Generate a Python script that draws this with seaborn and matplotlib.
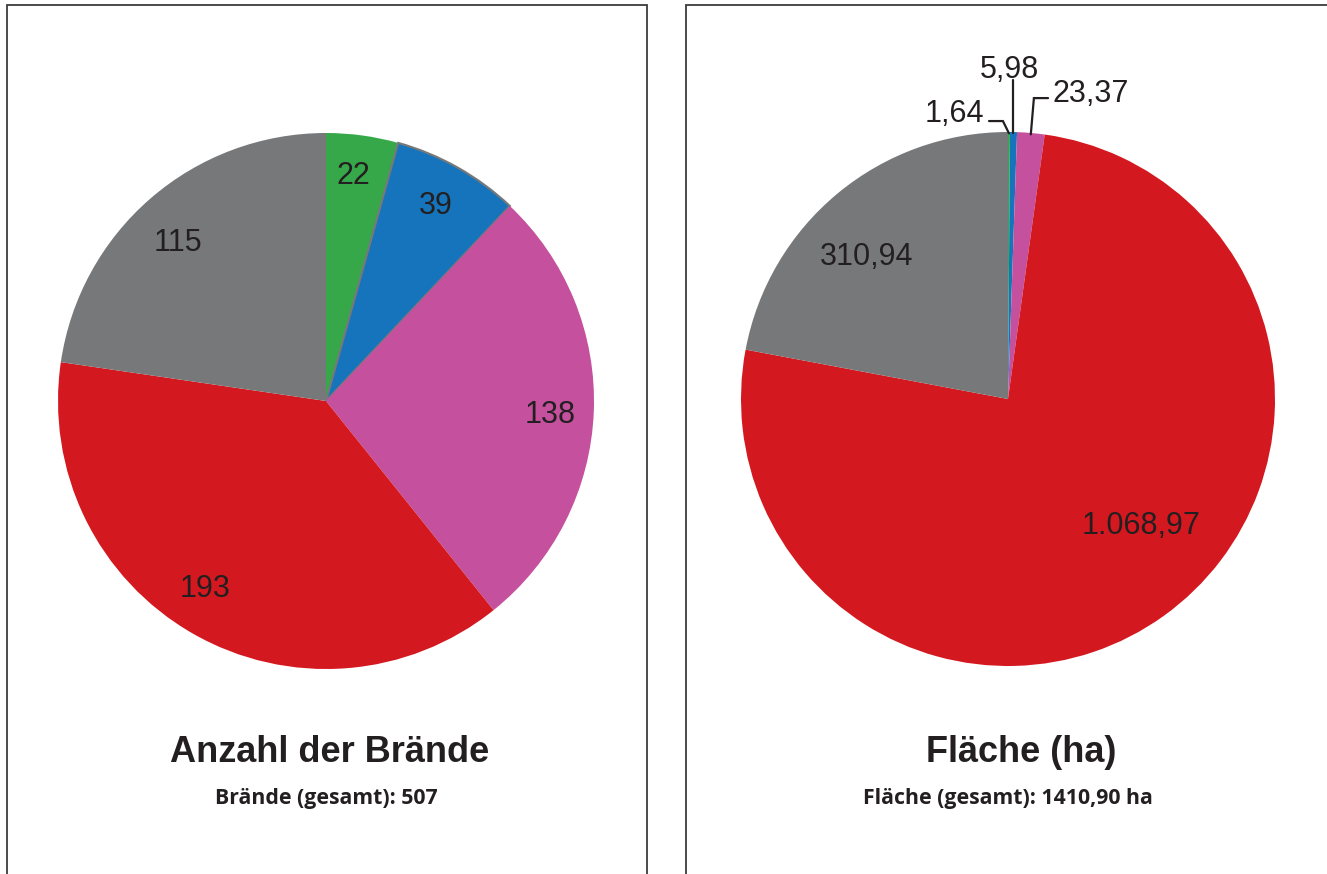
import numpy as np
import matplotlib
matplotlib.use("Agg")
import matplotlib.pyplot as plt
from matplotlib.patches import Rectangle
import seaborn as sns

# Daten
kategorien = ["A", "B", "C", "D", "E"]
braende = [22, 39, 138, 193, 115]
flaeche = [1.64, 5.98, 23.37, 1068.97, 310.94]
farben = ["#37a84a", "#1574bb", "#c4509e", "#d4181f", "#77787a"]

titel_links = "Anzahl der Brände"
sub_links = "Brände (gesamt): 507"
titel_rechts = "Fläche (ha)"
sub_rechts = "Fläche (gesamt): 1410,90 ha"

sns.set_style("white")
plt.rcParams["font.family"] = ["Liberation Sans", "DejaVu Sans"]

W, H = 1327, 874
fig = plt.figure(figsize=(W / 100, H / 100), dpi=100)
textfarbe = "#231f20"


def de_zahl(v, nd):
    s = f"{v:,.{nd}f}"
    return s.replace(",", "X").replace(".", ",").replace("X", ".")


def pie_axes(cx, cy, r, pad=1.35):
    ax = fig.add_axes([(cx - pad * r) / W, 1 - (cy + pad * r) / H,
                       2 * pad * r / W, 2 * pad * r / H])
    return ax


# Beschriftungspositionen (relativ zum Radius)
pos_braende = [(0.104, 0.854), (0.410, 0.739), (0.836, -0.041), (-0.451, -0.690), (-0.552, 0.604)]
pos_flaeche = [(-0.202, 1.079), (0.004, 1.247), (0.311, 1.157), (0.50, -0.464), (-0.528, 0.545)]

# linke Torte
ax1 = pie_axes(326, 401, 268)
wedges1, _ = ax1.pie(braende, colors=farben, startangle=90, counterclock=False,
                     wedgeprops=dict(linewidth=0))
wedges1[1].set_edgecolor("#77787a")
wedges1[1].set_linewidth(1.5)
for v, (x, y) in zip(braende, pos_braende):
    ax1.text(x, y, de_zahl(v, 0), fontsize=22, color=textfarbe, ha="center", va="center_baseline")
ax1.set_xlim(-1.35, 1.35)
ax1.set_ylim(-1.35, 1.35)
ax1.axis("off")

# rechte Torte
ax2 = pie_axes(1008, 399, 267)
wedges2, _ = ax2.pie(flaeche, colors=farben, startangle=90, counterclock=False,
                     wedgeprops=dict(linewidth=0))
ax2.set_xlim(-1.35, 1.35)
ax2.set_ylim(-1.35, 1.35)
ax2.axis("off")

for v, (x, y) in zip(flaeche, pos_flaeche):
    ax2.text(x, y, de_zahl(v, 2), fontsize=22, color=textfarbe, ha="center", va="center_baseline")

# Führungslinien für kleine Segmente
knicke = [[(-0.071, 1.041), (-0.019, 1.041)],
          [(0.019, 1.195)],
          [(0.150, 1.127), (0.097, 1.127)]]
for w, pts in zip(wedges2[:3], knicke):
    ang = np.deg2rad((w.theta1 + w.theta2) / 2)
    anker = (np.cos(ang) * 0.995, np.sin(ang) * 0.995)
    if len(pts) == 1:
        pts = [(anker[0], pts[0][1])]
    xs = [p[0] for p in pts] + [anker[0]]
    ys = [p[1] for p in pts] + [anker[1]]
    ax2.plot(xs, ys, color="#231f20", lw=1.6, solid_joinstyle="miter")

# Rahmen
fig.add_artist(Rectangle((6.5 / W, -0.1), 640 / W, 1.1 - 5 / H, transform=fig.transFigure,
                         fill=False, edgecolor="#3c3c3c", lw=1.3))
fig.add_artist(Rectangle((685.5 / W, -0.1), 700 / W, 1.1 - 5 / H, transform=fig.transFigure,
                         fill=False, edgecolor="#3c3c3c", lw=1.3))

# Titel
fig.text(329.5 / W, 1 - 748 / H, titel_links, ha="center", va="center_baseline",
         fontsize=26, fontweight="bold", color=textfarbe)
fig.text(326 / W, 1 - 796 / H, sub_links, ha="center", va="center_baseline",
         fontsize=15.3, fontweight="bold", color=textfarbe, family=["Open Sans", "DejaVu Sans"])
fig.text(1021 / W, 1 - 748 / H, titel_rechts, ha="center", va="center_baseline",
         fontsize=26, fontweight="bold", color=textfarbe)
fig.text(1007.5 / W, 1 - 796 / H, sub_rechts, ha="center", va="center_baseline",
         fontsize=15.3, fontweight="bold", color=textfarbe, family=["Open Sans", "DejaVu Sans"])

fig.savefig("out.png", dpi=100)
